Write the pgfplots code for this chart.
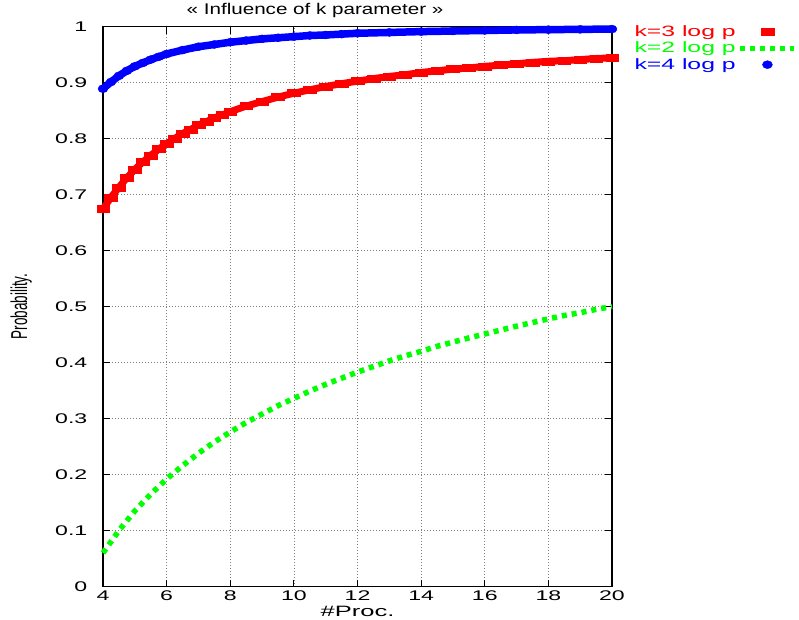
\documentclass[border=0pt]{standalone}
\usepackage{fontspec}
\setmainfont{Liberation Sans}
\usepackage{pgfplots}
\usepackage{pgfplotstable}
\pgfplotsset{compat=1.18}

\pgfplotstableread{
x y
4 0.674
4.25 0.695
4.5 0.713
4.75 0.730
5 0.745
5.25 0.758
5.5 0.770
5.75 0.781
6 0.791
6.25 0.800
6.5 0.809
6.75 0.816
7 0.824
7.25 0.830
7.5 0.837
7.75 0.842
8 0.848
8.5 0.858
9 0.866
9.5 0.874
10 0.881
10.5 0.887
11 0.893
11.5 0.898
12 0.9025
12.5 0.907
13 0.911
13.5 0.914
14 0.918
14.5 0.921
15 0.924
15.5 0.926
16 0.929
16.5 0.931
17 0.9335
17.5 0.936
18 0.938
18.5 0.939
19 0.941
19.5 0.943
20 0.944
}\redtab

\pgfplotstableread{
x y
4 0.060
4.5 0.100
5 0.135
5.5 0.165
6 0.192
6.5 0.216
7 0.238
7.5 0.258
8 0.276
8.5 0.293
9 0.308
9.5 0.323
10 0.336
10.5 0.349
11 0.361
11.5 0.372
12 0.383
12.5 0.393
13 0.403
13.5 0.412
14 0.420
14.5 0.429
15 0.4365
15.5 0.444
16 0.451
16.5 0.458
17 0.465
17.5 0.4715
18 0.478
18.5 0.484
19 0.489
19.5 0.495
20 0.500
}\greentab

\pgfplotstableread{
x y
4 0.889
4.25 0.901
4.5 0.912
4.75 0.921
5 0.929
5.25 0.935
5.5 0.941
5.75 0.946
6 0.951
6.5 0.958
7 0.964
7.5 0.968
8 0.972
8.5 0.975
9 0.978
9.5 0.980
10 0.982
10.5 0.984
11 0.985
11.5 0.9865
12 0.988
13 0.9895
14 0.991
15 0.992
16 0.993
17 0.994
18 0.9945
19 0.995
20 0.9955
}\bluetab

\begin{document}
\begin{tikzpicture}
\begin{axis}[
  scale only axis, width=509pt, height=560pt,
  xmin=4, xmax=20, ymin=0, ymax=1,
  xtick={4,6,8,10,12,14,16,18,20},
  ytick={0,0.1,0.2,0.3,0.4,0.5,0.6,0.7,0.8,0.9,1},
  grid=major,
  grid style={gray, line width=0.6pt, dash pattern=on 1pt off 2pt},
  tick align=inside,
  major tick length=7pt,
  tick style={black, line width=0.8pt},
  axis line style={black, line width=1.2pt},
  /pgf/number format/assume math mode=true,
  ticklabel style={font=\fontsize{14}{16}\selectfont, xscale=1.65},
  xticklabel style={anchor=base, yshift=-14pt},
  yticklabel style={xshift=-6pt},
  title={« Influence of k parameter »},
  title style={font=\fontsize{15.5}{18}\selectfont, xscale=1.33, at={(0.4165,1)}, anchor=base, yshift=6pt},
  xlabel={\#Proc.},
  xlabel style={font=\fontsize{15}{18}\selectfont, xscale=1.7, at={(0.5,0)}, anchor=base, yshift=-29.5pt},
  ylabel={\scalebox{1}[1.7]{Probability.}},
  ylabel style={font=\fontsize{13.5}{16}\selectfont, at={(-0.161,0.5)}, anchor=center},
  clip=false,
  legend plot pos=right,
  legend cell align=left,
  legend image code/.code={\draw[mark repeat=2,mark phase=2,#1] plot coordinates {(0pt,0pt)(27pt,0pt)(54pt,0pt)};},
  legend style={at={(1.04,1)}, anchor=north west, draw=none, fill=none, inner sep=0pt, yshift=3pt,
    font=\fontsize{15}{17}\selectfont, row sep=0pt},
]
\addplot[red, line width=7pt, line join=round, forget plot] table {\redtab};
\addplot[red, only marks, mark=square*, mark size=3.5pt, mark options={xscale=1.8}] table {\redtab};
\addlegendentry{\scalebox{1.65}[1]{\textcolor{red}{k=3 log p}}}
\addplot[green, line width=5.5pt, dash pattern=on 5pt off 5pt] table {\greentab};
\addlegendentry{\scalebox{1.65}[1]{\textcolor{green}{k=2 log p}}}
\addplot[blue, line width=7.5pt, line join=round, forget plot] table {\bluetab};
\addplot[blue, only marks, mark=*, mark size=4pt, mark options={xscale=1.25}] table {\bluetab};
\addlegendentry{\scalebox{1.65}[1]{\textcolor{blue}{k=4 log p}}}
\path (rel axis cs:-0.2024,-0.0536) (rel axis cs:1.3674,1.0464);
\end{axis}
\end{tikzpicture}
\end{document}
